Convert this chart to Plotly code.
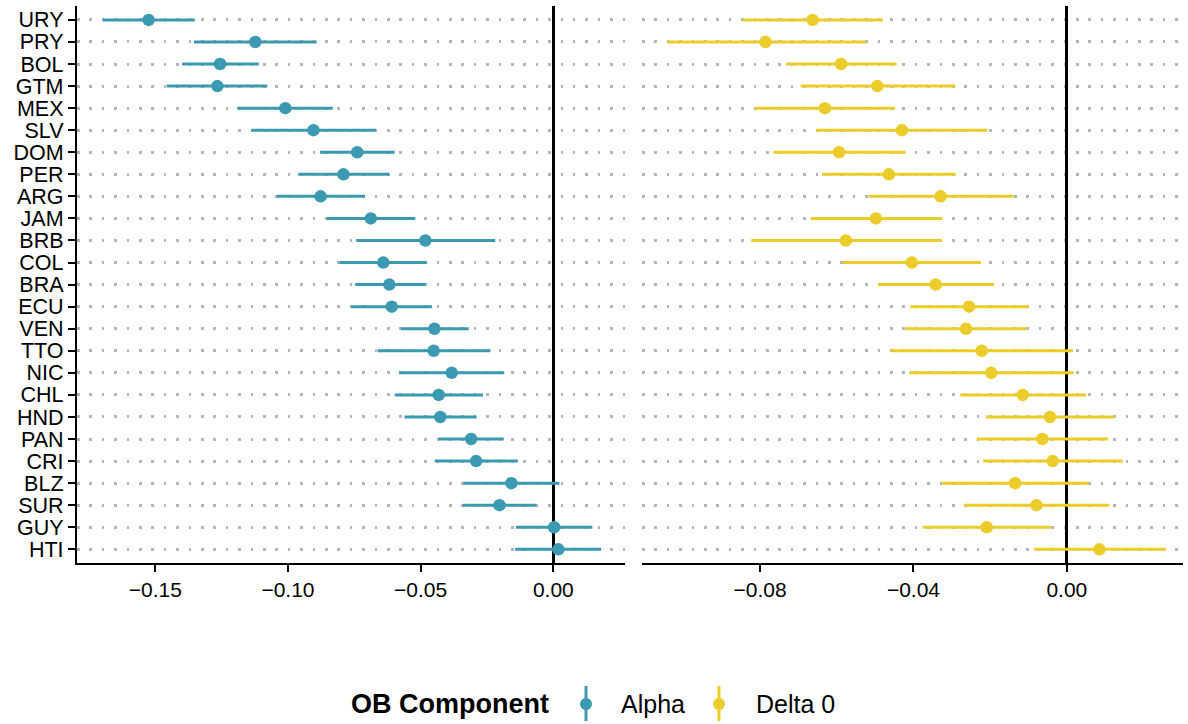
import plotly.graph_objects as go
from plotly.subplots import make_subplots

# Country codes, top to bottom
countries = ["URY", "PRY", "BOL", "GTM", "MEX", "SLV", "DOM", "PER", "ARG", "JAM",
             "BRB", "COL", "BRA", "ECU", "VEN", "TTO", "NIC", "CHL", "HND", "PAN",
             "CRI", "BLZ", "SUR", "GUY", "HTI"]

# Alpha component: estimate and interval bounds
alpha_est = [-0.1525, -0.1123, -0.1256, -0.1266, -0.1010, -0.0904, -0.0739, -0.0791, -0.0877, -0.0688,
             -0.0482, -0.0641, -0.0618, -0.0609, -0.0448, -0.0451, -0.0383, -0.0432, -0.0426, -0.0310,
             -0.0291, -0.0158, -0.0203, 0.0003, 0.0019]
alpha_lo = [-0.1698, -0.1354, -0.1399, -0.1457, -0.1191, -0.1138, -0.0879, -0.0961, -0.1042, -0.0854,
            -0.0743, -0.0806, -0.0747, -0.0762, -0.0575, -0.0662, -0.0581, -0.0598, -0.0561, -0.0433,
            -0.0447, -0.0339, -0.0341, -0.0141, -0.0144]
alpha_hi = [-0.1351, -0.0892, -0.1110, -0.1078, -0.0831, -0.0668, -0.0598, -0.0618, -0.0710, -0.0520,
            -0.0219, -0.0477, -0.0482, -0.0457, -0.0319, -0.0237, -0.0185, -0.0265, -0.0289, -0.0187,
            -0.0134, 0.0023, -0.0064, 0.0147, 0.0180]

# Delta 0 component: estimate and interval bounds
delta_est = [-0.0663, -0.0786, -0.0589, -0.0494, -0.0631, -0.0430, -0.0594, -0.0464, -0.0329, -0.0498,
             -0.0576, -0.0404, -0.0342, -0.0255, -0.0263, -0.0222, -0.0197, -0.0115, -0.0044, -0.0064,
             -0.0037, -0.0135, -0.0079, -0.0209, 0.0085]
delta_lo = [-0.0844, -0.1042, -0.0732, -0.0694, -0.0814, -0.0654, -0.0765, -0.0638, -0.0517, -0.0668,
            -0.0823, -0.0584, -0.0493, -0.0408, -0.0421, -0.0459, -0.0411, -0.0278, -0.0211, -0.0235,
            -0.0218, -0.0325, -0.0268, -0.0376, -0.0085]
delta_hi = [-0.0480, -0.0524, -0.0444, -0.0291, -0.0448, -0.0207, -0.0421, -0.0290, -0.0139, -0.0325,
            -0.0326, -0.0224, -0.0190, -0.0099, -0.0104, 0.0016, 0.0018, 0.0050, 0.0123, 0.0108,
            0.0146, 0.0057, 0.0111, -0.0042, 0.0258]

# Axis ticks
left_ticks = [-0.15, -0.10, -0.05, 0.00]
left_tick_text = ["\u22120.15", "\u22120.10", "\u22120.05", "0.00"]
right_ticks = [-0.08, -0.04, 0.00]
right_tick_text = ["\u22120.08", "\u22120.04", "0.00"]

components = ["Alpha", "Delta 0"]
colors = ["#3B9AB2", "#EBCC2A"]

W, H = 1188, 724
FONT = "Liberation Sans, Arial, sans-serif"

fig = make_subplots(rows=1, cols=2, shared_yaxes=True)


def add_component(est, lo, hi, color, col):
    fig.add_trace(
        go.Scatter(
            x=est, y=countries, mode="markers",
            marker=dict(color=color, size=12.5, line=dict(width=0)),
            error_x=dict(type="data", symmetric=False,
                         array=[h - e for h, e in zip(hi, est)],
                         arrayminus=[e - l for e, l in zip(est, lo)],
                         color=color, thickness=3, width=0),
            showlegend=False,
        ),
        row=1, col=col,
    )


add_component(alpha_est, alpha_lo, alpha_hi, colors[0], 1)
add_component(delta_est, delta_lo, delta_hi, colors[1], 2)

y_dom = [1 - 563 / H, 1 - 6 / H]
common_x = dict(
    showgrid=False, zeroline=True, zerolinecolor="black", zerolinewidth=2.5,
    showline=True, linecolor="black", linewidth=2.3, mirror=False,
    ticks="outside", ticklen=7, tickwidth=2.2, tickcolor="black",
    tickfont=dict(family=FONT, size=21, color="black"),
)
fig.update_xaxes(domain=[77 / W, 625 / W], range=[-0.1795, 0.0270],
                 tickvals=left_ticks, ticktext=left_tick_text, row=1, col=1, **common_x)
fig.update_xaxes(domain=[642 / W, 1183 / W], range=[-0.1108, 0.0303],
                 tickvals=right_ticks, ticktext=right_tick_text, row=1, col=2, **common_x)

fig.update_yaxes(
    type="category", categoryorder="array", categoryarray=countries[::-1],
    tickmode="array", tickvals=countries, ticktext=countries,
    range=[-0.62, 24.63], domain=y_dom,
    showgrid=True, gridcolor="#B5B5B5", gridwidth=2.5, griddash="2.5px,9.9px",
    zeroline=False,
)
fig.update_yaxes(showline=True, linecolor="black", linewidth=2.3,
                 ticks="outside", ticklen=7, tickwidth=2.2, tickcolor="black",
                 tickfont=dict(family=FONT, size=21.5, color="black"), row=1, col=1)
fig.update_yaxes(showline=False, ticks="", showticklabels=False, row=1, col=2)

# Legend: title, pointrange keys and labels
leg_y = 704
shapes = []
annotations = [dict(text="<b>OB Component</b>", x=349 / W, y=1 - leg_y / H, xref="paper", yref="paper",
                    xanchor="left", yanchor="middle", showarrow=False,
                    font=dict(family=FONT, size=27, color="black"))]
key_x = [586, 719]
label_x = [619, 754]
for name, color, kx, lx in zip(components, colors, key_x, label_x):
    shapes.append(dict(type="line", xref="paper", yref="paper",
                       x0=kx / W, x1=kx / W, y0=1 - 686 / H, y1=1 - 721 / H,
                       line=dict(color=color, width=3)))
    shapes.append(dict(type="circle", xref="paper", yref="paper",
                       xsizemode="pixel", ysizemode="pixel",
                       xanchor=kx / W, yanchor=1 - leg_y / H,
                       x0=-6, x1=6, y0=-6, y1=6,
                       fillcolor=color, line=dict(width=0)))
    annotations.append(dict(text=name, x=lx / W, y=1 - leg_y / H, xref="paper", yref="paper",
                            xanchor="left", yanchor="middle", showarrow=False,
                            font=dict(family=FONT, size=25, color="black")))

fig.update_layout(
    width=W, height=H, margin=dict(l=0, r=0, t=0, b=0),
    plot_bgcolor="white", paper_bgcolor="white",
    showlegend=False, shapes=shapes, annotations=annotations,
    font=dict(family=FONT, color="black"),
)

fig.write_html("out.html")
